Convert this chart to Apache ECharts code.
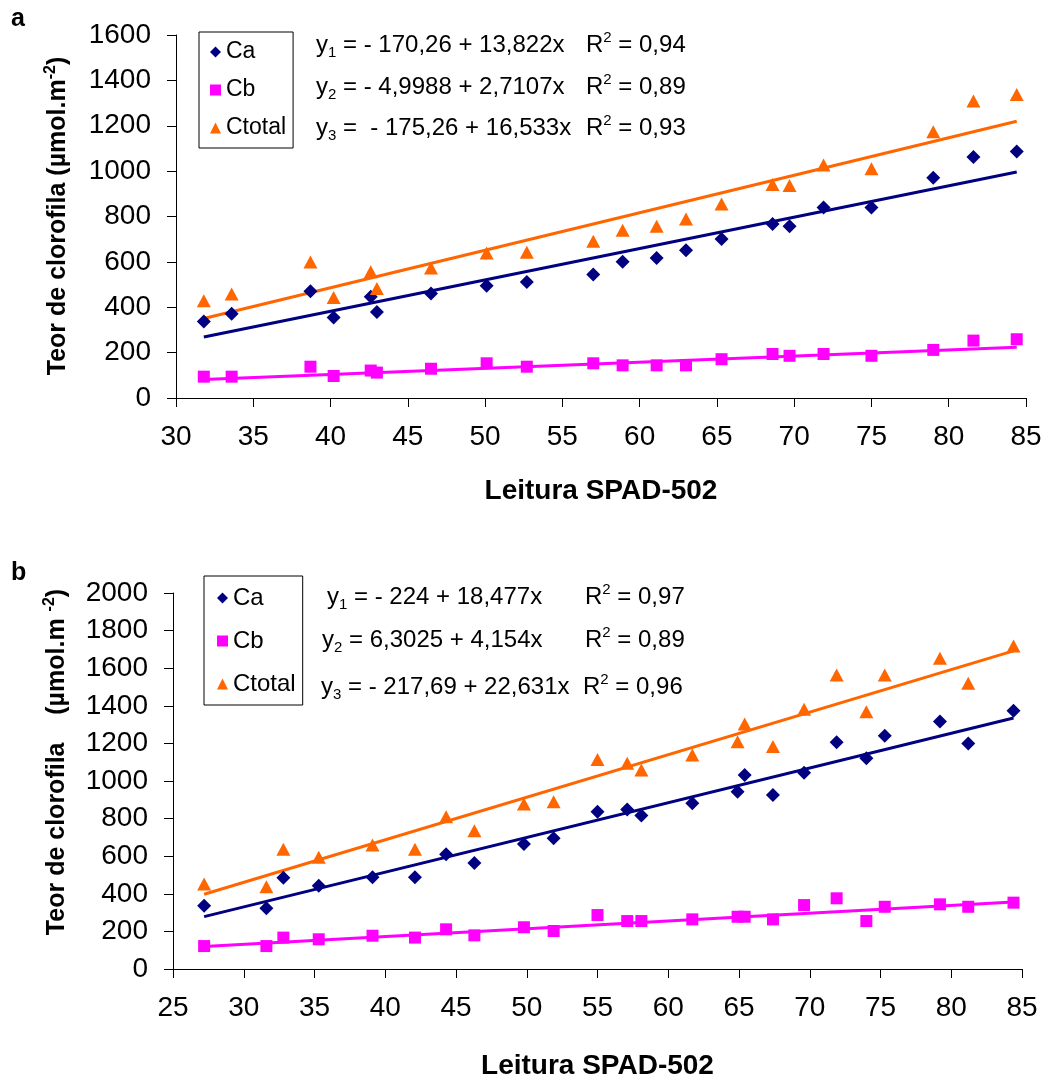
<!DOCTYPE html>
<html>
<head>
<meta charset="utf-8">
<title>Teor de clorofila x Leitura SPAD-502</title>
<script src="https://cdn.jsdelivr.net/npm/echarts@6/dist/echarts.min.js"></script>
<style>
  html, body { margin: 0; padding: 0; background: #fff; }
  #chart { width: 1045px; height: 1086px; }
</style>
</head>
<body>
<div id="chart"></div>
<script>
// ---- Painel a ----
const spadA = [31.8, 33.6, 38.7, 40.2, 42.6, 43.0, 46.5, 50.1, 52.7, 57.0, 58.9, 61.1, 63.0, 65.3, 68.6, 69.7, 71.9, 75.0, 79.0, 81.6, 84.4];
const caA   = [337, 371, 470, 355, 446, 379, 461, 495, 511, 544, 601, 617, 651, 701, 767, 757, 840, 840, 971, 1062, 1087];
const cbA   = [94, 94, 138, 97, 121, 112, 129, 153, 138, 153, 144, 144, 144, 171, 194, 186, 194, 186, 212, 253, 259];
const ctA   = [429, 458, 600, 443, 557, 483, 573, 639, 642, 691, 739, 757, 789, 855, 941, 937, 1027, 1010, 1174, 1309, 1338];
// regression coefficients [intercept, slope] for Ca, Cb, Ctotal
const fitA  = [[-170.26, 13.822], [-4.9988, 2.7107], [-175.26, 16.533]];
const eqA   = [['- 170,26 + 13,822x', '0,94'], ['- 4,9988 + 2,7107x', '0,89'], [' - 175,26 + 16,533x', '0,93']];

// ---- Painel b ----
const spadB = [27.2, 31.6, 32.8, 35.3, 39.1, 42.1, 44.3, 46.3, 49.8, 51.9, 55.0, 57.1, 58.1, 61.7, 64.9, 65.4, 67.4, 69.6, 71.9, 74.0, 75.3, 79.2, 81.2, 84.4];
const caB   = [337, 323, 486, 443, 488, 488, 610, 564, 665, 695, 837, 849, 816, 881, 943, 1032, 926, 1044, 1206, 1121, 1241, 1316, 1200, 1374];
const cbB   = [122, 122, 167, 158, 177, 167, 211, 179, 222, 202, 287, 255, 255, 264, 278, 278, 264, 340, 376, 255, 331, 344, 331, 353];
const ctB   = [452, 438, 637, 594, 660, 637, 810, 736, 878, 890, 1115, 1094, 1059, 1138, 1209, 1303, 1183, 1381, 1564, 1369, 1564, 1653, 1520, 1718];
const fitB  = [[-224, 18.477], [6.3025, 4.154], [-217.69, 22.631]];
const eqB   = [['- 224 + 18,477x', '0,97'], ['6,3025 + 4,154x', '0,89'], ['- 217,69 + 22,631x', '0,96']];

const names   = ['Ca', 'Cb', 'Ctotal'];
const symbols = ['diamond', 'rect', 'triangle'];
const colors  = ['#000080', '#FF00FF', '#FF6600'];

const FONT = '"Liberation Sans", Arial, Helvetica, sans-serif';

function pairs(xs, ys) { return xs.map((x, i) => [x, ys[i]]); }
function fitLine(xs, coef) {
  const x0 = Math.min(...xs), x1 = Math.max(...xs);
  return [[x0, coef[0] + coef[1] * x0], [x1, coef[0] + coef[1] * x1]];
}

function panelSeries(idx, xs, ysList, fits) {
  const out = [];
  // regression lines first, points on top
  fits.forEach((c, k) => {
    out.push({
      name: names[k] + ' (ajuste)', type: 'line', xAxisIndex: idx, yAxisIndex: idx,
      data: fitLine(xs, c), symbol: 'none', silent: true,
      lineStyle: { color: colors[k], width: 3 }, z: 2
    });
  });
  ysList.forEach((ys, k) => {
    out.push({
      name: names[k], type: 'scatter', xAxisIndex: idx, yAxisIndex: idx,
      data: pairs(xs, ys), symbol: symbols[k],
      symbolSize: k === 1 ? 12 : (k === 2 ? [14, 13] : 14),
      itemStyle: { color: colors[k], opacity: 1 }, z: 3
    });
  });
  return out;
}

const axisLineStyle = { show: true, lineStyle: { color: '#000', width: 1 } };
const tickStyle = { show: true, length: 9, lineStyle: { color: '#000', width: 1 } };
const labelStyle = { color: '#000', fontSize: 28, fontFamily: FONT, margin: 25, formatter: v => String(v) };

function xAxisDef(idx, min, gap) {
  return {
    type: 'value', gridIndex: idx, min: min, max: 85, interval: 5,
    axisLine: axisLineStyle, axisTick: tickStyle, splitLine: { show: false },
    axisLabel: labelStyle,
    name: 'Leitura SPAD-502', nameLocation: 'middle', nameGap: gap,
    nameTextStyle: { color: '#000', fontSize: 28, fontWeight: 'bold', fontFamily: FONT }
  };
}
function yAxisDef(idx, max) {
  return {
    type: 'value', gridIndex: idx, min: 0, max: max, interval: 200,
    axisLine: axisLineStyle, axisTick: tickStyle, splitLine: { show: false },
    axisLabel: labelStyle
  };
}

const richEq = {
  m: { fontSize: 24, fontFamily: FONT, color: '#000', lineHeight: 30 },
  sub: { fontSize: 15, fontFamily: FONT, color: '#000', lineHeight: 14, verticalAlign: 'bottom' },
  sup: { fontSize: 15, fontFamily: FONT, color: '#000', lineHeight: 14, verticalAlign: 'top' }
};
const richTitle = {
  t: { fontSize: 25, fontWeight: 'bold', fontFamily: FONT, color: '#000', lineHeight: 30 },
  s: { fontSize: 16, fontWeight: 'bold', fontFamily: FONT, color: '#000', lineHeight: 14, verticalAlign: 'top' }
};

function textEl(x, y, text, rich, opts) {
  const o = opts || {};
  return {
    type: 'text', x: x, y: y, rotation: o.rotation || 0, silent: true,
    style: {
      text: text, rich: rich,
      align: o.align || 'left', verticalAlign: 'middle',
      textAlign: o.align || 'left', textVerticalAlign: 'middle',
      fill: '#000', fontFamily: FONT, fontSize: o.fontSize || 24, fontWeight: o.fontWeight || 'normal'
    }
  };
}

const graphics = [];
// panel letters
graphics.push(textEl(11, 19, 'a', null, { fontSize: 25, fontWeight: 'bold' }));
graphics.push(textEl(11, 573, 'b', null, { fontSize: 25, fontWeight: 'bold' }));
// y-axis titles
graphics.push(textEl(58, 216, '{t|Teor de clorofila (µmol.m}{s|-2}{t|)}', richTitle, { align: 'center', rotation: Math.PI / 2 }));
graphics.push(textEl(57, 762, '{t|Teor de clorofila    (µmol.m }{s|-2}{t|)}', richTitle, { align: 'center', rotation: Math.PI / 2 }));
// regression equations
const rowsA = [45, 87, 128], eqXA = [316, 316, 316], r2XA = 586;
eqA.forEach((e, k) => {
  graphics.push(textEl(eqXA[k], rowsA[k], '{m|y}{sub|' + (k + 1) + '}{m| = ' + e[0] + '}', richEq));
  graphics.push(textEl(r2XA, rowsA[k], '{m|R}{sup|2}{m| = ' + e[1] + '}', richEq));
});
const rowsB = [597, 640, 687], eqXB = [327, 322, 321], r2XB = [585, 585, 583];
eqB.forEach((e, k) => {
  graphics.push(textEl(eqXB[k], rowsB[k], '{m|y}{sub|' + (k + 1) + '}{m| = ' + e[0] + '}', richEq));
  graphics.push(textEl(r2XB[k], rowsB[k], '{m|R}{sup|2}{m| = ' + e[1] + '}', richEq));
});

const legendData = names.map((n, k) => ({ name: n, icon: symbols[k] }));
function legendDef(left, top, gap, pad, fs) {
  return {
    orient: 'vertical', left: left, top: top, data: legendData, selectedMode: false,
    itemWidth: 11, itemHeight: 11, itemGap: gap, padding: pad,
    borderColor: '#000', borderWidth: 1, backgroundColor: '#fff',
    textStyle: { color: '#000', fontSize: fs, fontFamily: FONT, lineHeight: 26 }
  };
}

const chart = echarts.init(document.getElementById('chart'), null, { renderer: 'canvas' });
chart.setOption({
  animation: false,
  backgroundColor: '#fff',
  grid: [
    { left: 176, top: 35, width: 850, height: 363 },
    { left: 173, top: 593, width: 849, height: 376 }
  ],
  xAxis: [xAxisDef(0, 30, 79), xAxisDef(1, 25, 83)],
  yAxis: [yAxisDef(0, 1600), yAxisDef(1, 2000)],
  legend: [
    legendDef(199, 32, 12, [7, 7, 7, 11], 23),
    legendDef(204, 576, 17, [9, 7, 8, 13], 24)
  ],
  graphic: graphics,
  series: [].concat(
    panelSeries(0, spadA, [caA, cbA, ctA], fitA),
    panelSeries(1, spadB, [caB, cbB, ctB], fitB)
  )
});
</script>
</body>
</html>
